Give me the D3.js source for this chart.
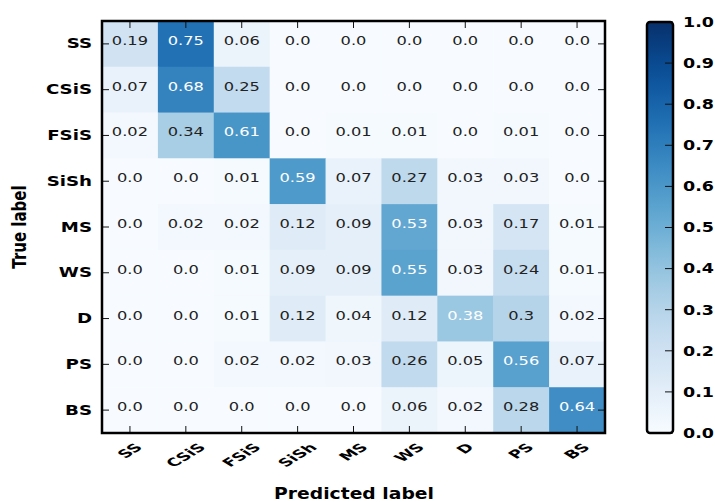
<!DOCTYPE html>
<html>
<head>
<meta charset="utf-8">
<script src="https://cdn.jsdelivr.net/npm/d3@7"></script>
<style>
    body { margin: 0; background: #fff; }
    text { font-family: "DejaVu Sans", sans-serif; }
</style>
</head>
<body>
<svg id="chart"></svg>
<script>
// class names, rows = true label, columns = predicted label
var classes = ['SS', 'CSiS', 'FSiS', 'SiSh', 'MS', 'WS', 'D', 'PS', 'BS'];

// normalized confusion matrix, one array per true class
var rowSS   = [0.19, 0.75, 0.06, 0.0,  0.0,  0.0,  0.0,  0.0,  0.0];
var rowCSiS = [0.07, 0.68, 0.25, 0.0,  0.0,  0.0,  0.0,  0.0,  0.0];
var rowFSiS = [0.02, 0.34, 0.61, 0.0,  0.01, 0.01, 0.0,  0.01, 0.0];
var rowSiSh = [0.0,  0.0,  0.01, 0.59, 0.07, 0.27, 0.03, 0.03, 0.0];
var rowMS   = [0.0,  0.02, 0.02, 0.12, 0.09, 0.53, 0.03, 0.17, 0.01];
var rowWS   = [0.0,  0.0,  0.01, 0.09, 0.09, 0.55, 0.03, 0.24, 0.01];
var rowD    = [0.0,  0.0,  0.01, 0.12, 0.04, 0.12, 0.38, 0.3,  0.02];
var rowPS   = [0.0,  0.0,  0.02, 0.02, 0.03, 0.26, 0.05, 0.56, 0.07];
var rowBS   = [0.0,  0.0,  0.0,  0.0,  0.0,  0.06, 0.02, 0.28, 0.64];

var colorbarTicks = [0.0, 0.1, 0.2, 0.3, 0.4, 0.5, 0.6, 0.7, 0.8, 0.9, 1.0];

var matrix = [rowSS, rowCSiS, rowFSiS, rowSiSh, rowMS, rowWS, rowD, rowPS, rowBS];

var canvasWidth = 715;
var canvasHeight = 502;
var plot = {left: 102, right: 605, top: 21, bottom: 433};
var cbar = {left: 647, right: 673, top: 22, bottom: 433};
var sx = 1.25; // the picture is stretched sideways

var svg = d3.select('#chart')
    .attr('width', canvasWidth)
    .attr('height', canvasHeight);

var xScale = d3.scaleBand().domain(classes).range([plot.left, plot.right]);
var yScale = d3.scaleBand().domain(classes).range([plot.top, plot.bottom]);
var color = d3.scaleSequential(d3.interpolateBlues).domain([0, 1]);
var cbScale = d3.scaleLinear().domain([0, 1]).range([cbar.bottom, cbar.top]);

var cells = [];
matrix.forEach(function (row, i) {
    row.forEach(function (v, j) {
        cells.push({row: classes[i], col: classes[j], value: v});
    });
});

function fmt(v) {
    var s = String(v);
    return s.indexOf('.') < 0 ? s + '.0' : s;
}

// heatmap cells
svg.append('g').selectAll('rect')
    .data(cells)
    .enter()
    .append('rect')
    .attr('x', function (d) { return xScale(d.col); })
    .attr('y', function (d) { return yScale(d.row); })
    .attr('width', xScale.bandwidth() + 0.5)
    .attr('height', yScale.bandwidth() + 0.5)
    .attr('fill', function (d) { return color(d.value); });

// values in the cells
var thresh = d3.max(cells, function (d) { return d.value; }) / 2;
svg.append('g').selectAll('text')
    .data(cells)
    .enter()
    .append('text')
    .attr('transform', function (d) {
        return 'translate(' + (xScale(d.col) + xScale.bandwidth() / 2) + ',' +
            (yScale(d.row) + yScale.bandwidth() / 2 + 1) + ') scale(' + sx + ',1)';
    })
    .attr('text-anchor', 'middle')
    .attr('font-size', 13)
    .attr('fill', function (d) { return d.value > thresh ? '#fff' : '#222'; })
    .text(function (d) { return fmt(d.value); });

// ticks on all four sides, pointing in
var tickLen = 7;
var ticks = svg.append('g').attr('stroke', '#111').attr('stroke-width', 1);
classes.forEach(function (c) {
    var x = xScale(c) + xScale.bandwidth() / 2;
    var y = yScale(c) + yScale.bandwidth() / 2;
    ticks.append('line').attr('x1', x).attr('x2', x).attr('y1', plot.top).attr('y2', plot.top + tickLen);
    ticks.append('line').attr('x1', x).attr('x2', x).attr('y1', plot.bottom).attr('y2', plot.bottom - tickLen);
    ticks.append('line').attr('x1', plot.left).attr('x2', plot.left + tickLen).attr('y1', y).attr('y2', y);
    ticks.append('line').attr('x1', plot.right).attr('x2', plot.right - tickLen).attr('y1', y).attr('y2', y);
});

// frame
svg.append('rect')
    .attr('x', plot.left)
    .attr('y', plot.top)
    .attr('width', plot.right - plot.left)
    .attr('height', plot.bottom - plot.top)
    .attr('fill', 'none')
    .attr('stroke', '#000')
    .attr('stroke-width', 2.5);

// y tick labels
svg.append('g').selectAll('text')
    .data(classes)
    .enter()
    .append('text')
    .attr('transform', function (d) {
        return 'translate(92,' + (yScale(d) + yScale.bandwidth() / 2) + ') scale(1.3,0.95)';
    })
    .attr('text-anchor', 'end')
    .attr('dominant-baseline', 'central')
    .attr('font-size', 14)
    .attr('font-weight', 'bold')
    .text(function (d) { return d; });

// x tick labels, rotated 45 and centred under the tick
var xLabels = svg.append('g').selectAll('text')
    .data(classes)
    .enter()
    .append('text')
    .attr('text-anchor', 'middle')
    .attr('dominant-baseline', 'central')
    .attr('font-size', 14)
    .attr('font-weight', 'bold')
    .text(function (d) { return d; });
xLabels.attr('transform', function (d) {
    var len = this.getComputedTextLength();
    var half = (len / 2 + 6) * Math.SQRT1_2 * 0.8;
    var x = xScale(d) + xScale.bandwidth() / 2;
    var y = plot.bottom + 9 + half;
    return 'translate(' + x + ',' + y + ') scale(1.3,0.8) rotate(-45)';
});

// axis titles
svg.append('text')
    .attr('transform', 'translate(354,499) scale(' + sx + ',1)')
    .attr('text-anchor', 'middle')
    .attr('font-size', 15)
    .attr('font-weight', 'bold')
    .text('Predicted label');

svg.append('text')
    .attr('transform', 'translate(26,227) scale(' + sx + ',1) rotate(-90)')
    .attr('text-anchor', 'middle')
    .attr('font-size', 15)
    .attr('font-weight', 'bold')
    .text('True label');

// colorbar
var grad = svg.append('defs').append('linearGradient')
    .attr('id', 'cbgrad')
    .attr('x1', 0).attr('y1', 1).attr('x2', 0).attr('y2', 0);
grad.selectAll('stop')
    .data(d3.range(0, 1.0001, 0.05))
    .enter()
    .append('stop')
    .attr('offset', function (d) { return d; })
    .attr('stop-color', function (d) { return color(d); });

svg.append('rect')
    .attr('x', cbar.left)
    .attr('y', cbar.top)
    .attr('width', cbar.right - cbar.left)
    .attr('height', cbar.bottom - cbar.top)
    .attr('fill', 'url(#cbgrad)');

var cbTicks = svg.append('g');
cbTicks.selectAll('line')
    .data(colorbarTicks)
    .enter()
    .append('line')
    .attr('x1', cbar.right - 8)
    .attr('x2', cbar.right)
    .attr('y1', function (d) { return cbScale(d); })
    .attr('y2', function (d) { return cbScale(d); })
    .attr('stroke', '#111')
    .attr('stroke-width', 1);

cbTicks.selectAll('text')
    .data(colorbarTicks)
    .enter()
    .append('text')
    .attr('transform', function (d) {
        return 'translate(683,' + cbScale(d) + ') scale(' + sx + ',1)';
    })
    .attr('dominant-baseline', 'central')
    .attr('font-size', 14)
    .attr('font-weight', 'bold')
    .text(function (d) { return d.toFixed(1); });

svg.append('rect')
    .attr('x', cbar.left)
    .attr('y', cbar.top)
    .attr('width', cbar.right - cbar.left)
    .attr('height', cbar.bottom - cbar.top)
    .attr('rx', 3)
    .attr('fill', 'none')
    .attr('stroke', '#000')
    .attr('stroke-width', 2.5);
</script>
</body>
</html>
